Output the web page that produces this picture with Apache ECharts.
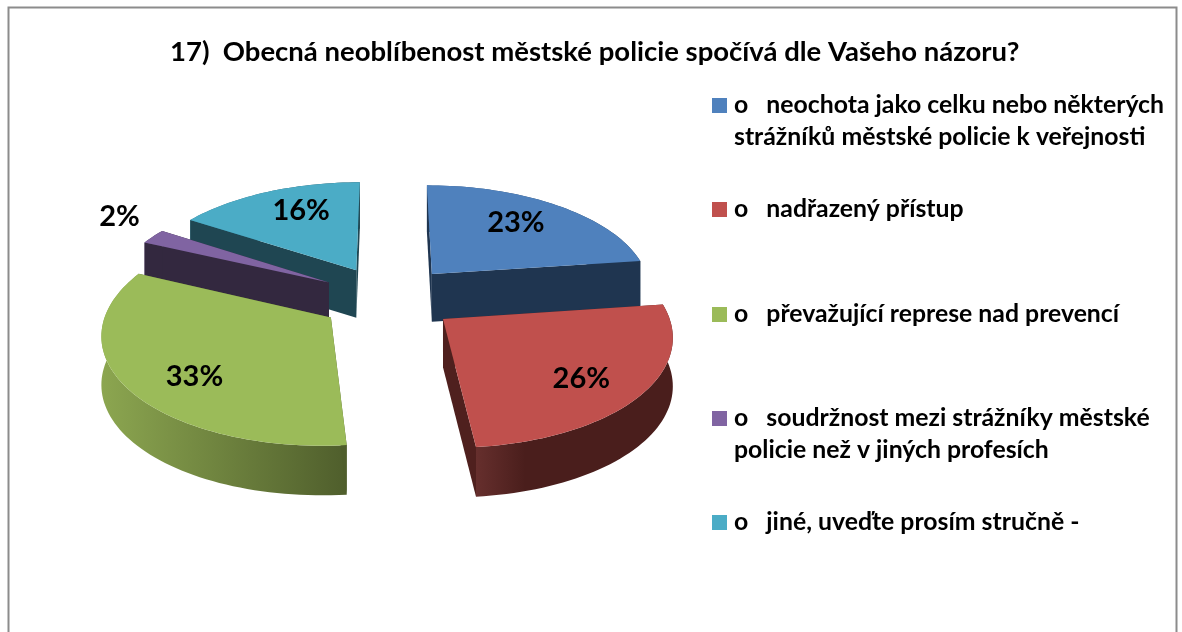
<!DOCTYPE html>
<html><head><meta charset="utf-8">
<style>html,body{margin:0;padding:0;background:#fff}#c{width:1182px;height:632px}</style>
<script src="https://cdn.jsdelivr.net/npm/echarts@6/dist/echarts.min.js"></script>
</head><body><div id="c"></div>
<script>
const titleText = '17)  Obecná neoblíbenost městské policie spočívá dle Vašeho názoru?';
const categories = [
  'o   neochota jako celku nebo některých\nstrážníků městské policie k veřejnosti',
  'o   nadřazený přístup',
  'o   převažující represe nad prevencí',
  'o   soudržnost mezi strážníky městské\npolicie než v jiných profesích',
  'o   jiné, uveďte prosím stručně -'
];
const values = [22.9, 25.6, 33.3, 2.3, 15.9];
const topColors = ['#4f81bd', '#c0504d', '#9bbb59', '#8064a2', '#4bacc6'];
const wallColors = ['#1f3550', '#4f201e', '#4f5e2c', '#33283f', '#1f4652'];
const rimLight = ['#3a5f8c', '#662f2d', '#8ca650', '#5f4a78', '#368096'];
const rimDark = ['#1f3550', '#4a1e1c', '#4f5e2c', '#33283f', '#1f4652'];
const drawOrder = [4, 0, 3, 2, 1];

// projection of the tilted, exploded disc
const cx = 388, cy = 298, A = 221, T = 106, K = 0.13, H = 48, EXPLODE = 0.31;
const labelRadius = [0.70, 0.744, 0.74, 1.29, 0.717];
const labelTurn = [-3, 3.4, -7, 4.7, 4.6];
const legendTop = [57.5, 193.5, 298.5, 370.5, 506.5];

const total = values.reduce((a, b) => a + b, 0);
function project(X, Y, down) {
  const s = 1 / (1 + K * Y);
  return [cx + X * A * s, cy - T * Y * s + (down ? H * Math.pow(s, 0.2) : 0)];
}
function renderSlice(i, params, api) {
  const before = values.slice(0, i).reduce((a, b) => a + b, 0);
  const v = api.value(0);
  const a0 = before / total * 2 * Math.PI, a1 = (before + v) / total * 2 * Math.PI;
  const mid = (a0 + a1) / 2;
  const ox = EXPLODE * Math.sin(mid), oy = EXPLODE * Math.cos(mid);
  const steps = Math.max(4, Math.ceil((a1 - a0) / 0.03));
  const arc = [];
  for (let k = 0; k <= steps; k++) {
    const a = a0 + (a1 - a0) * k / steps;
    arc.push([ox + Math.sin(a), oy + Math.cos(a)]);
  }
  const up = p => project(p[0], p[1], false), dn = p => project(p[0], p[1], true);
  const apex = [ox, oy];
  const xs = arc.map(p => up(p)[0]);
  const grad = new echarts.graphic.LinearGradient(Math.min(...xs), 0, Math.max(...xs), 0,
    [{offset: 0, color: rimLight[i]}, {offset: i === 1 ? 0.25 : 1, color: rimDark[i]}, {offset: 1, color: rimDark[i]}], true);
  const children = [];
  // outer rim
  children.push({type: 'polygon', shape: {points: arc.map(up).concat(arc.slice().reverse().map(dn))},
    style: {fill: grad, stroke: null}});
  // radial walls
  [arc[0], arc[arc.length - 1]].forEach(p => {
    children.push({type: 'polygon', shape: {points: [up(apex), up(p), dn(p), dn(apex)]},
      style: {fill: wallColors[i]}});
  });
  // top face
  children.push({type: 'polygon', shape: {points: [up(apex)].concat(arc.map(up))},
    style: {fill: topColors[i]}});
  // value label
  const la = mid + labelTurn[i] * Math.PI / 180;
  const lp = project(ox + labelRadius[i] * Math.sin(la), oy + labelRadius[i] * Math.cos(la), false);
  children.push({type: 'text', x: lp[0], y: lp[1], z2: 10, style: {
    text: Math.round(v / total * 100) + '%', align: 'center', verticalAlign: 'middle',
    font: 'bold 29px Lato', fill: '#000'}});
  return {type: 'group', children};
}
const chart = echarts.init(document.getElementById('c'), null, {renderer: 'canvas'});
chart.setOption({
  animation: false,
  backgroundColor: '#fff',
  title: {text: titleText, left: 170, top: 38, padding: 0,
    textStyle: {fontFamily: 'Lato', fontWeight: 'bold', fontSize: 27.5, color: '#000'}},
  graphic: [{type: 'rect', shape: {x: 8.5, y: 7.5, width: 1168, height: 700}, silent: true,
    style: {fill: 'none', stroke: '#8c8c8c', lineWidth: 2}}],
  legend: categories.map((c, i) => ({
    data: [c], left: 712, top: legendTop[i], padding: 0, orient: 'vertical', selectedMode: false,
    icon: 'rect', itemWidth: 15, itemHeight: 15, itemGap: 0,
    itemStyle: {borderWidth: 0},
    // a leading blank line centres the block on its first line, beside the swatch
    formatter: n => (n.indexOf('\n') >= 0 ? '\n' + n : n),
    textStyle: {fontFamily: 'Lato', fontWeight: 'bold', fontSize: 24.8, color: '#000', lineHeight: 32, padding: [0, 0, 0, 2]}
  })),
  series: categories.map((c, i) => ({
    type: 'custom', name: c, coordinateSystem: 'none', z: 2 + drawOrder.indexOf(i), silent: true,
    color: topColors[i], itemStyle: {color: topColors[i]},
    data: [[values[i]]], renderItem: (p, api) => renderSlice(i, p, api)
  }))
});
</script></body></html>
